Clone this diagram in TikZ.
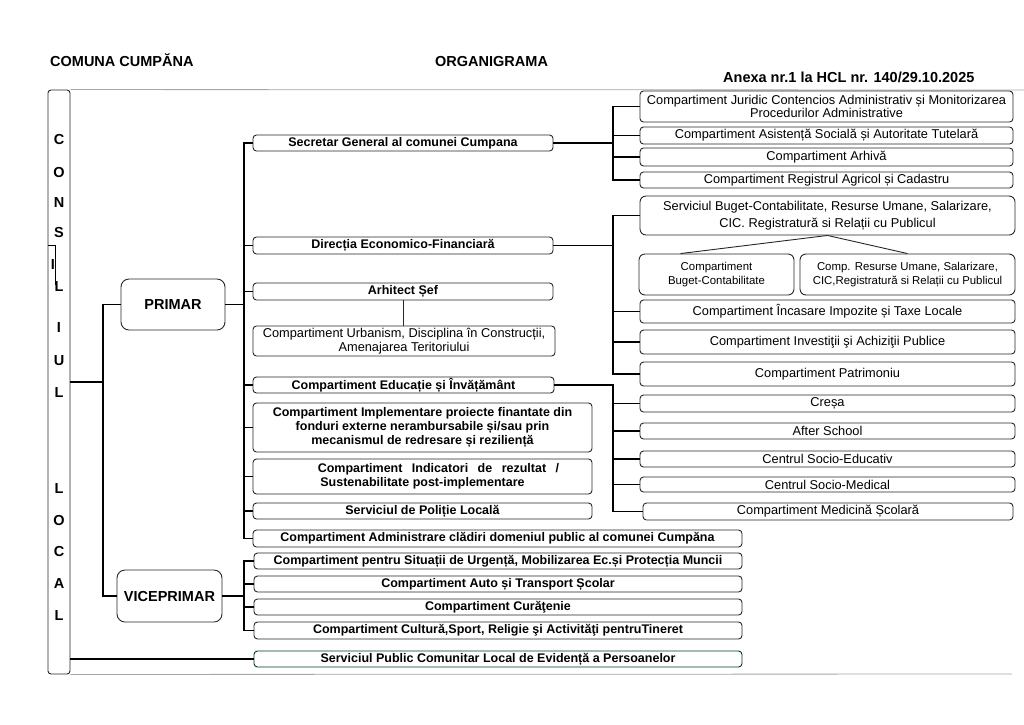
\documentclass[tikz,border=0pt]{standalone}
\usepackage{fontspec}
\setmainfont{Liberation Sans}
\usetikzlibrary{calc}
\newcommand\bx[7]{\node[#1,minimum width={#4pt-#2pt},minimum height={#5pt-#3pt}] (#6) at ({(#2+#4)/2},{(#3+#5)/2}) {#7};}
\begin{document}
\begin{tikzpicture}[x=1pt,y=-1pt,
  box/.style={draw=black!85, line width=0.9pt, rounded corners=3.5pt, inner sep=0pt, align=center, font=\fontsize{12.8}{12.5}\selectfont},
  bbox/.style={box, font=\bfseries\fontsize{12.5}{14}\selectfont},
  sbox/.style={box, rounded corners=6pt, font=\fontsize{11.4}{13.5}\selectfont},
  bigbox/.style={box, rounded corners=8pt, font=\bfseries\fontsize{14.5}{16}\selectfont},
  conn/.style={line width=1.7pt, black},
  thinconn/.style={line width=0.9pt, black!85},
  head/.style={font=\bfseries\fontsize{14.5}{16}\selectfont, inner sep=0pt, anchor=base west},
  letter/.style={font=\bfseries\fontsize{14.5}{16}\selectfont, inner sep=0pt},
  frame/.style={line width=0.8pt, black!35}]
\useasboundingbox (0,0) rectangle (1024,724);

% headers
\node[head] (h1) at (50,66) {COMUNA CUMPĂNA};
\node[head] (h2) at (435,66) {ORGANIGRAMA};
\node[head] (h3) at (723,82) {Anexa nr.1 la HCL nr. 140/29.10.2025};

% consiliul local bar
\bx{box,rounded corners=3pt}{48}{90}{70}{674}{cl}{}
\draw[frame] (cl.north east) -- (1024,90);
\draw[frame] (cl.south east) -- (1012,674);
\draw[line width=0.6pt] (48,245) -- (55,245) -- (55,285);
\node[letter] (l1) at (59,140) {C};
\node[letter] (l2) at (59,172) {O};
\node[letter] (l3) at (59,203) {N};
\node[letter] (l4) at (59,232) {S};
\node[letter] (l5) at (53,265) {I};
\node[letter] (l6) at (59,287) {L};
\node[letter] (l7) at (59,328) {I};
\node[letter] (l8) at (59,361) {U};
\node[letter] (l9) at (59,393) {L};
\node[letter] (l10) at (59,488) {L};
\node[letter] (l11) at (59,520) {O};
\node[letter] (l12) at (59,551) {C};
\node[letter] (l13) at (59,583) {A};
\node[letter] (l14) at (59,615) {L};

% primar / viceprimar
\bx{bigbox}{121}{279}{225}{330}{primar}{PRIMAR}
\bx{bigbox}{117}{570}{222}{622}{vice}{VICEPRIMAR}

% middle column
\bx{bbox}{253}{135}{553}{151}{sec}{Secretar General al comunei Cumpana}
\bx{bbox}{253}{237}{553}{254}{dir}{Direcția Economico-Financiară}
\bx{bbox}{253}{283}{553}{300}{arh}{Arhitect Șef}
\bx{box,font=\fontsize{12.8}{14}\selectfont}{253}{326}{555}{356}{urb}{Compartiment Urbanism, Disciplina în Construcții,\\Amenajarea Teritoriului}
\bx{bbox}{253}{377}{554}{393}{edu}{Compartiment Educație și Învățământ}
\bx{bbox}{253}{403}{592}{452}{imp}{Compartiment Implementare proiecte finantate din\\fonduri externe nerambursabile și/sau prin\\mecanismul de redresare și reziliență}
\bx{bbox}{253}{459}{592}{494}{ind}{\hspace*{32pt}Compartiment\hspace{6pt} Indicatori\hspace{6pt} de\hspace{6pt} rezultat\hspace{6pt} /\\Sustenabilitate post-implementare}
\bx{bbox}{253}{503}{592}{519}{pol}{Serviciul de Poliție Locală}
\bx{bbox}{253}{530}{742}{547}{adm}{Compartiment Administrare clădiri domeniul public al comunei Cumpăna}
\bx{bbox}{254}{553}{742}{569}{sit}{Compartiment pentru Situații de Urgență, Mobilizarea Ec.și Protecția Muncii}
\bx{bbox}{254}{576}{742}{592}{aut}{Compartiment Auto și Transport Școlar}
\bx{bbox}{254}{599}{742}{615}{cur}{Compartiment Curăţenie}
\bx{bbox}{254}{622}{742}{639}{cul}{Compartiment Cultură,Sport, Religie şi Activităţi pentruTineret}
\bx{bbox,draw=black!60!teal}{254}{651}{742}{667}{spc}{Serviciul Public Comunitar Local de Evidență a Persoanelor}

% right column
\bx{box}{640}{91}{1013}{122}{jur}{Compartiment Juridic Contencios Administrativ și Monitorizarea\\Procedurilor Administrative}
\bx{box}{640}{127}{1013}{144}{asi}{Compartiment Asistență Socială și Autoritate Tutelară}
\bx{box}{640}{148}{1013}{166}{arv}{Compartiment Arhivă}
\bx{box}{640}{172}{1013}{188}{reg}{Compartiment Registrul Agricol și Cadastru}
\bx{box,rounded corners=6pt,font=\fontsize{12.8}{16}\selectfont}{640}{196}{1015}{235}{sb}{\raisebox{-3pt}{\begin{tabular}{@{}c@{}}Serviciul Buget-Contabilitate, Resurse Umane, Salarizare,\\[1pt]CIC. Registratură si Relații cu Publicul\end{tabular}}}
\bx{sbox}{639}{254}{794}{295}{sbc}{Compartiment\\Buget-Contabilitate}
\bx{sbox}{800}{254}{1015}{295}{sru}{Comp. Resurse Umane, Salarizare,\\CIC,Registratură si Relații cu Publicul}
\bx{box}{640}{300}{1015}{323}{inc}{Compartiment Încasare Impozite și Taxe Locale}
\bx{box}{640}{330}{1015}{354}{inv}{Compartiment Investiţii şi Achiziţii Publice}
\bx{box}{640}{362}{1015}{386}{pat}{Compartiment Patrimoniu}
\bx{box}{640}{395}{1015}{412}{cre}{Creșa}
\bx{box}{640}{423}{1015}{439}{aft}{After School}
\bx{box}{640}{451}{1015}{467}{sed}{Centrul Socio-Educativ}
\bx{box}{640}{477}{1015}{492}{smd}{Centrul Socio-Medical}
\bx{box}{643}{503}{1013}{520}{med}{Compartiment Medicină Școlară}

% connectors
\coordinate (jl) at (103,382);
\coordinate (jp) at (244,0);
\coordinate (jr) at (613,0);
\draw[conn] (cl.east |- jl) -- (jl);
\draw[conn] (primar.west) -| (jl |- vice.west) -- (vice.west);
\draw[conn] (cl.east |- spc.west) -- (spc.west);
\foreach \n in {sec,dir,arh,edu,imp,ind,pol,adm}
  \draw[conn] (primar.east) -- (primar.east -| jp) |- (\n.west);
\foreach \n in {sit,aut,cur,cul}
  \draw[conn] (vice.east) -- (vice.east -| jp) |- (\n.west);
\foreach \n in {jur,asi,arv,reg}
  \draw[conn] (sec.east) -- (sec.east -| jr) |- (\n.west);
\foreach \n in {sb,inc,inv,pat}
  \draw[conn] (dir.east) -- (dir.east -| jr) |- (\n.west);
\foreach \n in {cre,aft,sed,smd,med}
  \draw[conn] (edu.east) -- (edu.east -| jr) |- (\n.west);
\draw[thinconn] (arh.south) -- (arh.south |- urb.north);
\draw[thinconn] (sb.south) -- ([xshift=-36pt]sbc.north);
\draw[thinconn] (sb.south) -- (sru.north);
\end{tikzpicture}
\end{document}
